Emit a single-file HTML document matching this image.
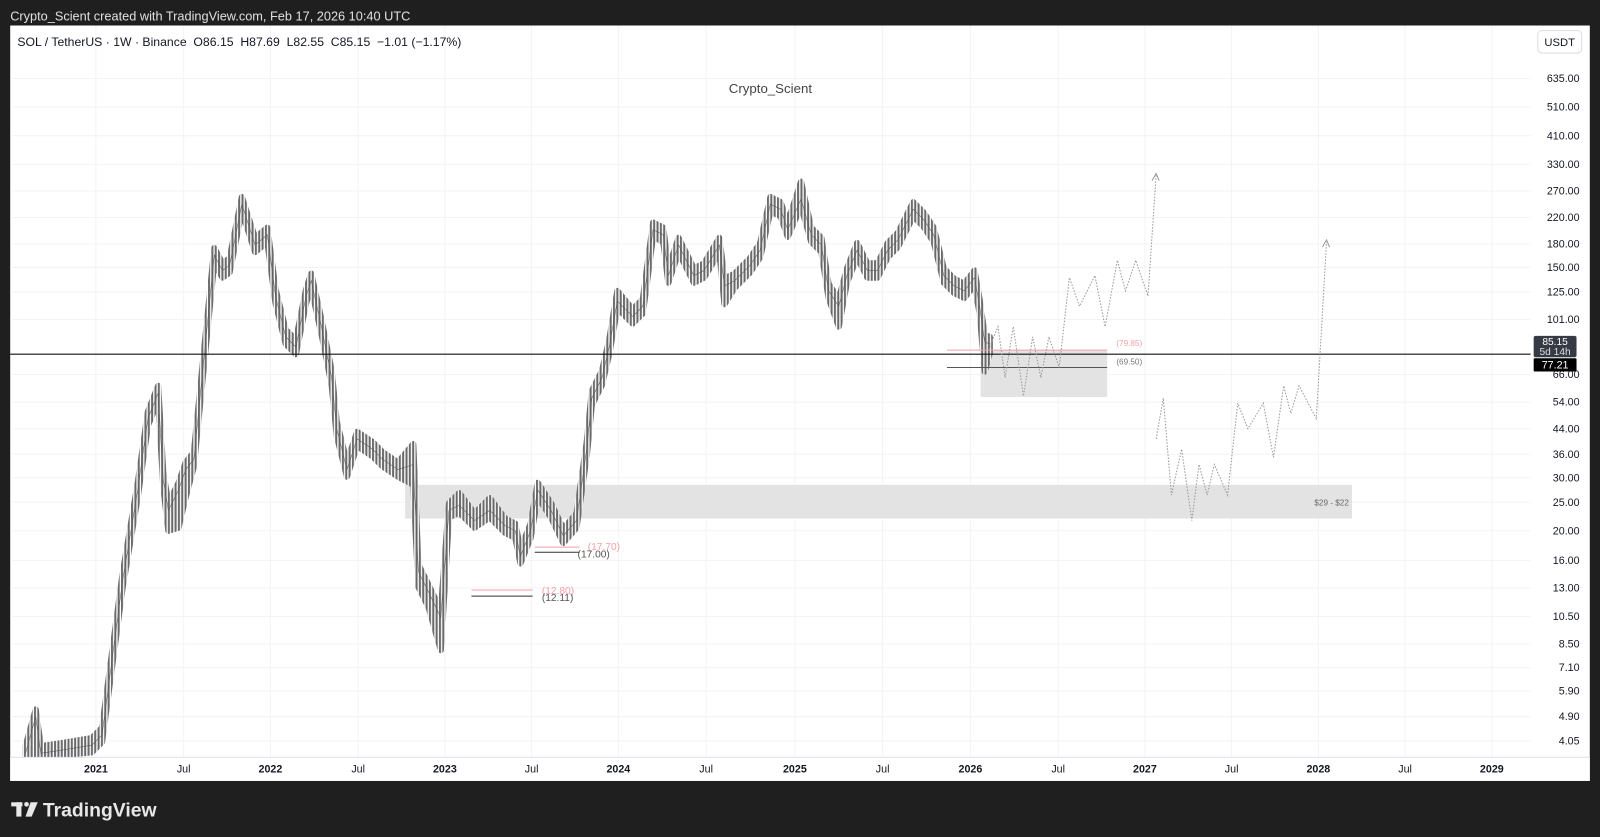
<!DOCTYPE html>
<html><head><meta charset="utf-8"><style>
html,body{margin:0;padding:0;background:#1f1f1f;width:1600px;height:837px;overflow:hidden}
svg{display:block}
text{font-family:"Liberation Sans",sans-serif}
</style></head><body>
<svg width="1600" height="837" viewBox="0 0 1568 820" preserveAspectRatio="none" xmlns="http://www.w3.org/2000/svg">
<defs>
<pattern id="cp" patternUnits="userSpaceOnUse" width="3.28" height="6" x="0" y="0">
<rect x="0" y="0" width="3.28" height="6" fill="#fff"/>
<rect x="0.5" y="0" width="2" height="6" fill="#6a6a6a"/>
</pattern>
</defs>
<rect width="1568" height="820" fill="#1f1f1f"/>
<text x="10" y="20" font-size="12.5" fill="#e0e0e0">Crypto_Scient created with TradingView.com, Feb 17, 2026 10:40 UTC</text>
<rect x="10" y="25" width="1548" height="740" fill="#fff"/>
<g stroke="#f2f3f5" stroke-width="1">
<line x1="10" y1="77" x2="1500" y2="77"/><line x1="10" y1="105" x2="1500" y2="105"/><line x1="10" y1="133" x2="1500" y2="133"/><line x1="10" y1="161" x2="1500" y2="161"/><line x1="10" y1="187" x2="1500" y2="187"/><line x1="10" y1="213" x2="1500" y2="213"/><line x1="10" y1="239" x2="1500" y2="239"/><line x1="10" y1="262" x2="1500" y2="262"/><line x1="10" y1="286" x2="1500" y2="286"/><line x1="10" y1="313" x2="1500" y2="313"/><line x1="10" y1="367" x2="1500" y2="367"/><line x1="10" y1="394" x2="1500" y2="394"/><line x1="10" y1="420" x2="1500" y2="420"/><line x1="10" y1="445" x2="1500" y2="445"/><line x1="10" y1="468" x2="1500" y2="468"/><line x1="10" y1="492" x2="1500" y2="492"/><line x1="10" y1="520" x2="1500" y2="520"/><line x1="10" y1="549" x2="1500" y2="549"/><line x1="10" y1="576" x2="1500" y2="576"/><line x1="10" y1="604" x2="1500" y2="604"/><line x1="10" y1="631" x2="1500" y2="631"/><line x1="10" y1="654" x2="1500" y2="654"/><line x1="10" y1="677" x2="1500" y2="677"/><line x1="10" y1="702" x2="1500" y2="702"/><line x1="10" y1="726" x2="1500" y2="726"/>
<line x1="94" y1="25" x2="94" y2="742"/><line x1="180" y1="25" x2="180" y2="742"/><line x1="265" y1="25" x2="265" y2="742"/><line x1="351" y1="25" x2="351" y2="742"/><line x1="436" y1="25" x2="436" y2="742"/><line x1="521" y1="25" x2="521" y2="742"/><line x1="606" y1="25" x2="606" y2="742"/><line x1="692" y1="25" x2="692" y2="742"/><line x1="779" y1="25" x2="779" y2="742"/><line x1="865" y1="25" x2="865" y2="742"/><line x1="951" y1="25" x2="951" y2="742"/><line x1="1037" y1="25" x2="1037" y2="742"/><line x1="1122" y1="25" x2="1122" y2="742"/><line x1="1207" y1="25" x2="1207" y2="742"/><line x1="1292" y1="25" x2="1292" y2="742"/><line x1="1377" y1="25" x2="1377" y2="742"/><line x1="1462" y1="25" x2="1462" y2="742"/>
</g>
<line x1="10" y1="742" x2="1558" y2="742" stroke="#e0e3eb"/>
<text x="17" y="45" font-size="12" fill="#131722" xml:space="preserve">SOL / TetherUS · 1W · Binance  O86.15  H87.69  L82.55  C85.15  −1.01 (−1.17%)</text>
<text x="755" y="91" font-size="13" fill="#444" text-anchor="middle">Crypto_Scient</text>
<rect x="1397" y="480" width="0" height="0" fill="none"/>
<rect x="397" y="475" width="928" height="33" fill="#e3e3e3"/>
<text x="1305" y="495" font-size="8" fill="#666" text-anchor="middle">$29 - $22</text>
<rect x="961" y="343" width="124" height="46" fill="#e3e3e3"/>
<polygon fill="url(#cp)" stroke="url(#cp)" stroke-width="6" stroke-linejoin="round" points="25,731 35,695 40,731 60,728 90,723 100,713 108,653 120,563 135,473 145,403 155,378 160,463 165,493 175,473 182,453 190,443 200,343 210,243 218,258 225,253 237,193 250,233 262,223 270,283 280,323 290,333 300,283 305,268 315,313 325,363 330,413 340,453 350,423 365,433 375,443 390,453 405,435 410,553 420,573 432,598 440,493 450,483 465,503 480,488 495,508 505,513 510,538 520,513 527,473 540,493 552,518 565,503 575,433 580,383 590,363 597,333 605,285 620,303 630,293 640,218 650,223 655,263 665,233 680,263 690,258 705,233 710,273 720,268 735,253 745,238 755,193 765,198 772,218 785,178 795,223 805,233 812,278 822,293 830,263 840,238 850,258 860,258 870,238 880,228 895,198 905,208 915,223 925,263 935,273 945,278 955,265 960,293 965,328 970,330 970,346 965,364 960,307 955,279 945,292 935,287 925,277 915,237 905,222 895,212 880,242 870,252 860,272 850,272 840,252 830,277 822,320 812,292 805,247 795,237 785,202 772,232 765,212 755,207 745,252 735,267 720,282 710,298 705,247 690,272 680,277 665,247 655,277 650,237 640,232 630,307 620,317 605,302 597,347 590,377 580,397 575,447 565,517 552,532 540,507 527,487 520,527 510,552 505,527 495,522 480,507 465,517 450,502 440,507 432,637 420,595 410,575 405,475 390,467 375,457 365,447 350,437 340,467 330,427 325,377 315,327 305,282 300,297 290,347 280,337 270,297 262,237 250,247 237,207 225,267 218,272 210,257 200,357 190,457 182,487 175,517 165,520 160,477 155,392 145,417 135,487 120,577 108,667 100,727 90,737 60,740 40,740 35,740 25,740"/>
<polyline fill="none" stroke="#555" stroke-width="0.5" points="25,738 35,702 40,738 60,735 90,730 100,720 108,660 120,570 135,480 145,410 155,385 160,470 165,500 175,480 182,460 190,450 200,350 210,250 218,265 225,260 237,200 250,240 262,230 270,290 280,330 290,340 300,290 305,275 315,320 325,370 330,420 340,460 350,430 365,440 375,450 390,460 405,455 410,560 420,580 432,605 440,500 450,495 465,510 480,500 495,515 505,520 510,545 520,520 527,480 540,500 552,525 565,510 575,440 580,390 590,370 597,340 605,295 620,310 630,300 640,225 650,230 655,270 665,240 680,270 690,265 705,240 710,280 720,275 735,260 745,245 755,200 765,205 772,225 785,195 795,230 805,240 812,285 822,300 830,270 840,245 850,265 860,265 870,245 880,235 895,205 905,215 915,230 925,270 935,280 945,285 955,272 960,300 965,335 970,337"/>
<rect x="10" y="742" width="1548" height="23" fill="#fff"/>
<line x1="10" y1="742" x2="1558" y2="742" stroke="#e0e3eb"/>
<line x1="10" y1="347" x2="1500" y2="347" stroke="#111" stroke-width="1"/>
<line x1="928" y1="343" x2="1085" y2="343" stroke="#f4a0a8"/>
<line x1="928" y1="360" x2="1085" y2="360" stroke="#555"/>
<text x="1094" y="339" font-size="8" fill="#f4a0a8">(79.85)</text>
<text x="1094" y="357" font-size="8" fill="#777">(69.50)</text>
<line x1="524" y1="536" x2="568" y2="536" stroke="#f4a0a8"/>
<line x1="524" y1="541" x2="568" y2="541" stroke="#333"/>
<text x="576" y="539" font-size="10" fill="#f4a0a8">(17.70)</text>
<text x="566" y="546" font-size="10" fill="#555">(17.00)</text>
<line x1="462" y1="578" x2="522" y2="578" stroke="#f4a0a8"/>
<line x1="462" y1="584" x2="522" y2="584" stroke="#333"/>
<text x="531" y="582" font-size="10" fill="#f4a0a8">(12.80)</text>
<text x="531" y="589" font-size="10" fill="#555">(12.11)</text>
<polyline fill="none" stroke="#999" stroke-width="1" stroke-dasharray="1.5,1.5" points="970,340 978,320 985,370 993,320 1003,388 1012,330 1020,370 1028,330 1038,360 1048,272 1058,300 1073,270 1083,320 1095,255 1103,285 1113,255 1125,290 1133,172"/>
<polyline fill="none" stroke="#999" stroke-width="1" stroke-dasharray="1.5,1.5" points="1133,430 1140,390 1148,485 1158,440 1168,510 1175,455 1183,485 1190,455 1203,485 1213,395 1223,420 1238,395 1248,448 1258,378 1265,405 1273,378 1290,410 1300,237"/>
<polyline fill="none" stroke="#999" points="1129,177 1133,170 1136,177"/>
<polyline fill="none" stroke="#999" points="1296,242 1300,235 1303,242"/>
<g font-size="10.5" fill="#131722" text-anchor="end">
<text x="1548" y="80.5">635.00</text><text x="1548" y="108.5">510.00</text><text x="1548" y="136.5">410.00</text><text x="1548" y="164.5">330.00</text><text x="1548" y="190.5">270.00</text><text x="1548" y="216.5">220.00</text><text x="1548" y="242.5">180.00</text><text x="1548" y="265.5">150.00</text><text x="1548" y="289.5">125.00</text><text x="1548" y="316.5">101.00</text><text x="1548" y="370.5">66.00</text><text x="1548" y="397.5">54.00</text><text x="1548" y="423.5">44.00</text><text x="1548" y="448.5">36.00</text><text x="1548" y="471.5">30.00</text><text x="1548" y="495.5">25.00</text><text x="1548" y="523.5">20.00</text><text x="1548" y="552.5">16.00</text><text x="1548" y="579.5">13.00</text><text x="1548" y="607.5">10.50</text><text x="1548" y="634.5">8.50</text><text x="1548" y="657.5">7.10</text><text x="1548" y="680.5">5.90</text><text x="1548" y="705.5">4.90</text><text x="1548" y="729.5">4.05</text>
</g>
<g font-size="10.5" fill="#131722" text-anchor="middle">
<text x="94" y="757" font-weight="bold">2021</text><text x="180" y="757">Jul</text><text x="265" y="757" font-weight="bold">2022</text><text x="351" y="757">Jul</text><text x="436" y="757" font-weight="bold">2023</text><text x="521" y="757">Jul</text><text x="606" y="757" font-weight="bold">2024</text><text x="692" y="757">Jul</text><text x="779" y="757" font-weight="bold">2025</text><text x="865" y="757">Jul</text><text x="951" y="757" font-weight="bold">2026</text><text x="1037" y="757">Jul</text><text x="1122" y="757" font-weight="bold">2027</text><text x="1207" y="757">Jul</text><text x="1292" y="757" font-weight="bold">2028</text><text x="1377" y="757">Jul</text><text x="1462" y="757" font-weight="bold">2029</text>
</g>
<rect x="1507" y="30" width="43" height="22" rx="4" fill="#fff" stroke="#ddd"/>
<text x="1528.5" y="45" font-size="11" fill="#131722" text-anchor="middle">USDT</text>
<rect x="1503" y="329" width="42" height="21" rx="2" fill="#363a45"/>
<text x="1524" y="338" font-size="10" fill="#fff" text-anchor="middle">85.15</text>
<text x="1524" y="348" font-size="10" fill="#ddd" text-anchor="middle">5d 14h</text>
<rect x="1503" y="351" width="42" height="13" rx="1" fill="#000"/>
<text x="1524" y="361" font-size="10.5" fill="#fff" text-anchor="middle">77.21</text>
<g fill="#e8e8e8">
<rect x="11" y="786" width="11" height="4"/><rect x="16" y="786" width="5" height="14"/>
<circle cx="26" cy="788" r="2.3"/>
<polygon points="30,786 37,786 31,800 25,800"/>
</g>
<text x="42" y="800" font-size="19" font-weight="bold" fill="#e8e8e8">TradingView</text>
</svg>
</body></html>
